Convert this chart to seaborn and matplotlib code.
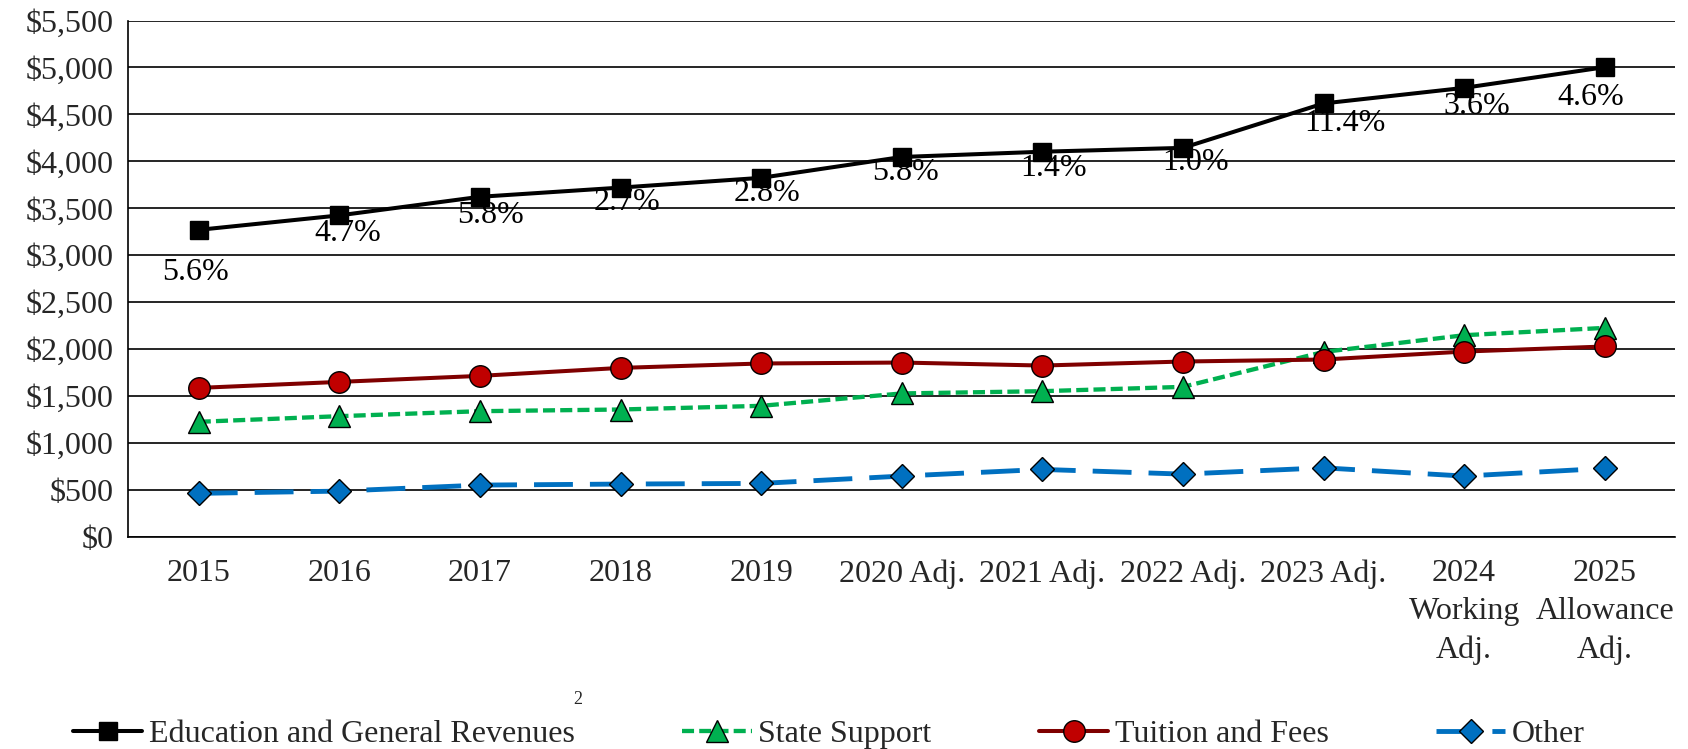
import numpy as np
import pandas as pd
import matplotlib
matplotlib.use("Agg")
import matplotlib.pyplot as plt
import seaborn as sns
from matplotlib.ticker import FuncFormatter

# ---------------- data ----------------
categories = ["2015", "2016", "2017", "2018", "2019", "2020 Adj.", "2021 Adj.",
              "2022 Adj.", "2023 Adj.", "2024\nWorking\nAdj.", "2025\nAllowance\nAdj."]
edu_general = [3271, 3425, 3623, 3721, 3825, 4047, 4103, 4144, 4617, 4783, 5003]
state_support = [1227, 1287, 1340, 1358, 1397, 1529, 1553, 1599, 1971, 2149, 2227]
tuition_fees = [1588, 1652, 1716, 1801, 1848, 1858, 1826, 1869, 1890, 1975, 2029]
other = [465, 489, 553, 564, 571, 649, 720, 670, 737, 649, 731]
growth_labels = ["5.6%", "4.7%", "5.8%", "2.7%", "2.8%", "5.8%", "1.4%", "1.0%",
                 "11.4%", "3.6%", "4.6%"]
series_names = ["Education and General Revenues", "State Support",
                "Tuition and Fees", "Other"]
y_ticks = list(range(0, 5501, 500))

# ---------------- layout / style ----------------
label_offsets_px = [(-3, -43), (8, -18), (11, -19), (6, -15), (6, -16), (4, -16),
                    (11, -17), (13, -15), (21, -20), (13, -19), (-14, -30)]
FS = 23

sns.set_style("white")
plt.rcParams['font.family'] = ['Liberation Serif', 'DejaVu Serif']

fig = plt.figure(figsize=(16.88, 7.49), dpi=100)
ax = fig.add_axes([0.0761, 0.2830, 0.9162, 0.6896])

x = np.arange(len(categories))
df = pd.DataFrame({"x": x, series_names[0]: edu_general, series_names[1]: state_support,
                   series_names[2]: tuition_fees, series_names[3]: other})

styles = {
    series_names[0]: dict(color="black", lw=2.9, ls="-", marker="s", ms=13,
                          mfc="black", mec="black", mew=1),
    series_names[1]: dict(color="#00B050", lw=3.1, ls=(0, (2.8, 1.2)), marker="^", ms=16.5,
                          mfc="#00B050", mec="black", mew=1),
    series_names[2]: dict(color="#7F0000", lw=2.9, ls="-", marker="o", ms=15.5,
                          mfc="#C00000", mec="black", mew=1),
    series_names[3]: dict(color="#0070C0", lw=3.5, ls=(0, (8, 3.5)), marker="D", ms=12,
                          mfc="#0070C0", mec="black", mew=1),
}

for name in series_names:
    st = styles[name]
    sns.lineplot(data=df, x="x", y=name, ax=ax, label=name, color=st["color"],
                 linewidth=st["lw"], linestyle=st["ls"], marker=st["marker"],
                 markersize=st["ms"], markerfacecolor=st["mfc"],
                 markeredgecolor=st["mec"], markeredgewidth=st["mew"])

for i, (v, lbl) in enumerate(zip(edu_general, growth_labels)):
    dx, dy = label_offsets_px[i]
    ax.annotate(lbl, (x[i], v), xytext=(dx, dy), textcoords="offset pixels",
                ha="center", va="center", fontsize=FS, color="black", zorder=10)

ax.set_xlim(-0.5, len(categories) - 0.5)
ax.set_ylim(0, 5500)
ax.set_yticks(y_ticks)
ax.yaxis.set_major_formatter(FuncFormatter(lambda v, p: "${:,.0f}".format(v)))
ax.set_xticks(np.arange(-0.5, len(categories), 1.0))
ax.set_xticklabels([])
ax.set_xticks(x, minor=True)
ax.set_xticklabels(categories, minor=True, fontsize=FS, linespacing=1.42)
ax.tick_params(axis="x", which="major", direction="out", length=6.5, width=1.1,
               color="black")
ax.tick_params(axis="x", which="minor", length=0, pad=15.9)
ax.tick_params(axis="y", direction="out", length=6.5, width=1.1, color="black",
               pad=4.5, labelsize=FS)
ax.set_xlabel("")
ax.set_ylabel("")

ax.yaxis.grid(True, color="black", linewidth=1.2)
ax.xaxis.grid(False)
ax.set_axisbelow(True)
for s in ["top", "right"]:
    ax.spines[s].set_visible(False)
for s in ["left", "bottom"]:
    ax.spines[s].set_color("black")
    ax.spines[s].set_linewidth(1.2)

handles, labels = ax.get_legend_handles_labels()
if ax.get_legend() is not None:
    ax.get_legend().remove()
fig.legend(handles, labels, loc="center left", bbox_to_anchor=(73 / 1688, 1 - 734 / 749),
           ncol=4, frameon=False, borderaxespad=0, borderpad=0, handlelength=2.17,
           handletextpad=0.2, columnspacing=3.37, fontsize=FS)
fig.text(578 / 1688, 1 - 700 / 749, "2", fontsize=13, ha="center", va="center")

fig.savefig("out.png", dpi=100)
